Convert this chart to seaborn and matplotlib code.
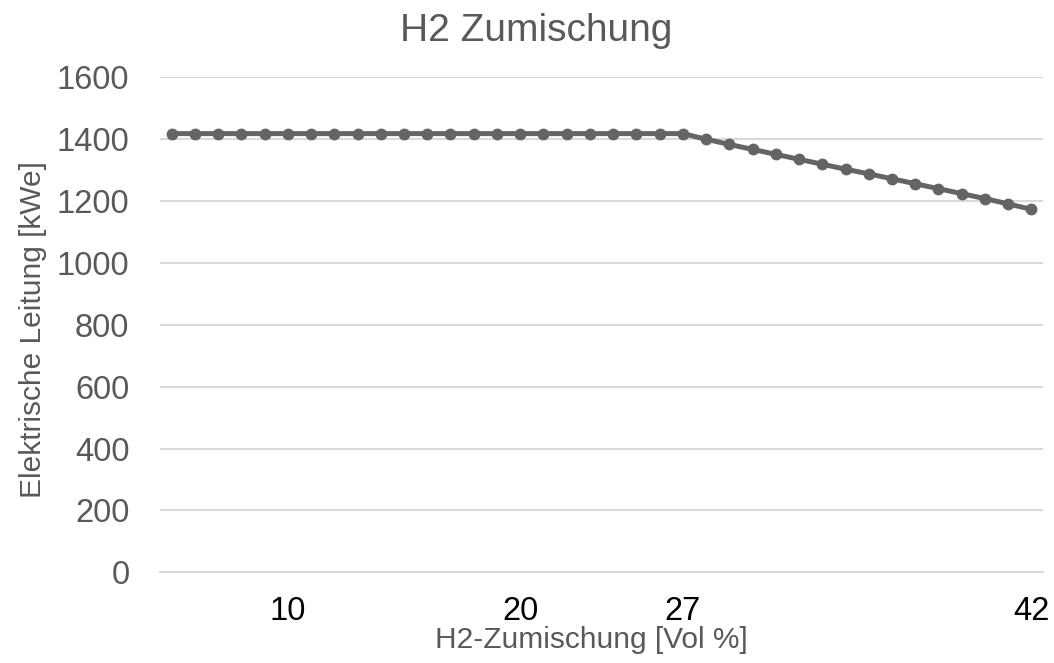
import matplotlib
matplotlib.use("Agg")
import matplotlib.pyplot as plt
import seaborn as sns
import pandas as pd

# H2 admixture (vol %) and electrical output (kWe)
h2_vol = list(range(5, 43))
power_kwe = [1418] * 23 + [1400, 1383, 1367, 1351, 1335, 1319, 1303, 1288,
                           1272, 1256, 1240, 1224, 1208, 1191, 1173]
x_ticks = [10, 20, 27, 42]
y_ticks = [0, 200, 400, 600, 800, 1000, 1200, 1400, 1600]

df = pd.DataFrame({"h2": h2_vol, "power": power_kwe})

sns.set_theme(style="white")
plt.rcParams["font.family"] = ["Liberation Sans", "DejaVu Sans"]

grey = "#595959"
line_col = "#646464"

fig = plt.figure(figsize=(10.54, 6.63), dpi=100)
ax = fig.add_axes([0.1518, 0.1368, 0.8378, 0.7466])

sns.lineplot(data=df, x="h2", y="power", ax=ax, color=line_col,
             linewidth=3.6, marker="o", markersize=8.5,
             markeredgewidth=0, markerfacecolor=line_col, zorder=3)

ax.set_xlim(4.5, 42.5)
ax.set_ylim(0, 1600)
ax.set_xticks(x_ticks)
ax.set_xticklabels([str(v) for v in x_ticks])
ax.set_yticks(y_ticks)
ax.set_yticklabels([str(v) for v in y_ticks])

ax.yaxis.grid(True, color="#d9d9d9", linewidth=1.5, zorder=0)
ax.xaxis.grid(False)
for s in ["top", "right", "left"]:
    ax.spines[s].set_visible(False)
ax.spines["bottom"].set_color("#d9d9d9")
ax.spines["bottom"].set_linewidth(1.5)

ax.tick_params(axis="y", length=0, pad=22, labelsize=23.5, labelcolor=grey)
ax.tick_params(axis="x", length=0, pad=17, labelsize=23.5, labelcolor="black")

ax.set_xlabel("H2-Zumischung [Vol %]", fontsize=21.5, color=grey)
ax.set_ylabel("Elektrische Leitung [kWe]", fontsize=21.5, color=grey)
ax.xaxis.set_label_coords(0.488, -0.108)
ax.yaxis.set_label_coords(-0.128, 0.49)

fig.suptitle("H2 Zumischung", x=0.509, y=0.98, fontsize=28, color=grey)

fig.savefig("out.png", dpi=100, facecolor="white")
